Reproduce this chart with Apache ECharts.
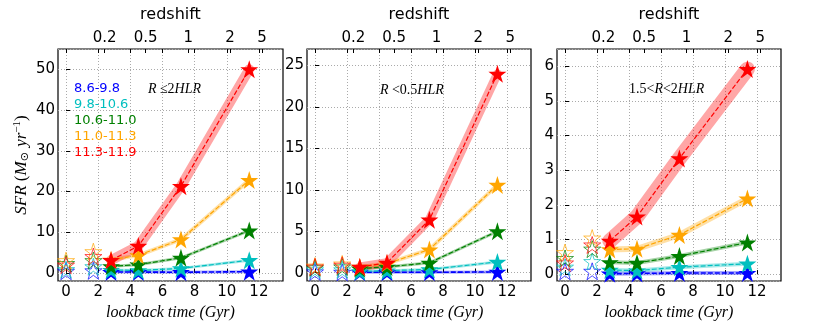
<!DOCTYPE html>
<html>
<head>
<meta charset="utf-8">
<script src="https://cdn.jsdelivr.net/npm/echarts@6/dist/echarts.min.js"></script>
<style>
  html, body { margin: 0; padding: 0; background: #fff; }
  #main { width: 831px; height: 331px; }
</style>
</head>
<body>
<div id="main"></div>
<script>
// mass bins (log M*)
var binNames = ['8.6-9.8', '9.8-10.6', '10.6-11.0', '11.0-11.3', '11.3-11.9'];
var binColors = ['#0000ff', '#00bfbf', '#008000', '#ffa500', '#ff0000'];

// lookback times (Gyr)
var xFilled = [2.8, 4.5, 7.15, 11.4];
var xOpen = [0, 1.7];
var xTicks = [0, 2, 4, 6, 8, 10, 12];

// top axis: redshift labels at their lookback time
var zLabels = ['0.2', '0.5', '1', '2', '5'];
var zLookback = [2.4, 4.95, 7.6, 10.2, 12.2];

// panel 1: R <= 2HLR
var p1Filled = [
  [0.2, 0.2, 0.15, 0.3],
  [0.7, 0.6, 1.1, 3.1],
  [1.6, 2.0, 3.7, 10.4],
  [3.2, 4.3, 8.2, 22.8],
  [3.1, 6.6, 21.3, 50.0]
];
var p1Open = [
  [0.4, 0.5],
  [0.8, 1.5],
  [2.3, 3.0],
  [3.0, 5.2],
  [1.9, 4.0]
];

// panel 2: R < 0.5HLR
var p2Filled = [
  [0.05, 0.05, 0.05, 0.1],
  [0.15, 0.25, 0.4, 1.3],
  [0.5, 0.7, 1.2, 5.0],
  [0.7, 1.1, 2.8, 10.6],
  [0.7, 1.2, 6.4, 24.0]
];
var p2Open = [
  [0.1, 0.05],
  [0.35, 0.35],
  [0.6, 0.7],
  [0.8, 1.05],
  [0.7, 0.9]
];

// panel 3: 1.5 < R < 2HLR
var p3Filled = [
  [0.01, 0.02, 0.03, 0.03],
  [0.12, 0.1, 0.2, 0.3],
  [0.34, 0.32, 0.52, 0.91],
  [0.71, 0.73, 1.13, 2.18],
  [0.96, 1.66, 3.34, 5.92]
];
var p3Open = [
  [0.08, 0.08],
  [0.2, 0.36],
  [0.45, 0.72],
  [0.62, 1.04],
  [0.32, 0.84]
];

var panels = [
  { filled: p1Filled, open: p1Open, left: 58, width: 225, ymin: -2, ymax: 55, split: 6, band: [3, 3, 3, 4, 10] },
  { filled: p2Filled, open: p2Open, left: 307, width: 224, ymin: -1, ymax: 27, split: 6, band: [3, 3, 3, 4, 9] },
  { filled: p3Filled, open: p3Open, left: 557, width: 224, ymin: -0.2, ymax: 6.5, split: 7, band: [4, 4, 4, 6, 15] }
];

var star = 'path://M50 0 L61.23 34.55 L97.55 34.55 L68.17 55.9 L79.39 90.45 L50 69.1 L20.61 90.45 L31.83 55.9 L2.45 34.55 L38.77 34.55 Z';
var sans = 'DejaVu Sans';
var serif = 'Liberation Serif';

function pairs(xs, ys) {
  return xs.map(function (x, i) { return [x, ys[i]]; });
}

var grids = [], xAxes = [], yAxes = [], series = [];
var dotted = { show: true, lineStyle: { color: '#aaaaaa', type: [1, 2], width: 1 } };

panels.forEach(function (p, k) {
  grids.push({ left: p.left, top: 49, width: p.width, height: 232, show: true,
    borderColor: '#000', borderWidth: 1.2, backgroundColor: 'transparent', outerBoundsMode: 'none' });
  // bottom x axis
  xAxes.push({
    type: 'value', gridIndex: k, min: -0.5, max: 13.5, splitNumber: 7, position: 'bottom',
    name: 'lookback time (Gyr)', nameLocation: 'middle', nameGap: 22,
    nameTextStyle: { fontFamily: serif, fontStyle: 'italic', fontSize: 16, color: '#000' },
    axisLine: { show: false },
    axisTick: { show: true, inside: true, length: 4, lineStyle: { color: '#000' }, customValues: xTicks },
    axisLabel: { fontFamily: sans, fontSize: 15, color: '#000', margin: 4, customValues: xTicks },
    splitLine: dotted
  });
  // left y axis
  yAxes.push({
    type: 'value', gridIndex: k, min: p.ymin, max: p.ymax, splitNumber: p.split, position: 'left',
    axisLine: { show: false },
    axisTick: { show: true, inside: true, length: 4, lineStyle: { color: '#000' } },
    axisLabel: { fontFamily: sans, fontSize: 15, color: '#000', margin: 3, showMinLabel: false, showMaxLabel: false },
    splitLine: dotted
  });
});

panels.forEach(function (p, k) {
  // top redshift axis
  xAxes.push({
    type: 'value', gridIndex: k, min: -0.5, max: 13.5, position: 'top',
    name: 'redshift', nameLocation: 'middle', nameGap: 26,
    nameTextStyle: { fontFamily: sans, fontSize: 16, color: '#000' },
    axisLine: { show: false },
    axisTick: { show: true, inside: true, length: 4, lineStyle: { color: '#000' },
      customValues: zLookback.concat(xTicks) },
    axisLabel: { fontFamily: sans, fontSize: 15, color: '#000', margin: 3, customValues: zLookback,
      formatter: function (v) {
        var i = zLookback.indexOf(v);
        return i >= 0 ? zLabels[i] : '';
      } },
    splitLine: { show: false }
  });
});

yAxes[0].name = '{i|SFR}{n| (}{i|M}{s|⊙}{i| yr}{u|−1}{n|)}';
yAxes[0].nameLocation = 'middle';
yAxes[0].nameGap = 26;
yAxes[0].nameTextStyle = {
  fontFamily: serif, fontSize: 17, color: '#000',
  rich: {
    i: { fontFamily: serif, fontStyle: 'italic', fontSize: 17, color: '#000' },
    n: { fontFamily: serif, fontSize: 17, color: '#000' },
    s: { fontFamily: 'DejaVu Sans', fontSize: 11, color: '#000', padding: [6, 1, 0, 0] },
    u: { fontFamily: serif, fontSize: 11, color: '#000', padding: [0, 0, 9, 0] }
  }
};

panels.forEach(function (p, k) {
  for (var b = 0; b < 5; b++) {
    var c = binColors[b];
    var d = pairs(xFilled, p.filled[b]);
    series.push({
      name: binNames[b] + ' band', type: 'line', xAxisIndex: k, yAxisIndex: k, data: d,
      symbol: 'none', silent: true, z: 2,
      lineStyle: { color: c, width: p.band[b], opacity: 0.35, cap: 'round', join: 'round' }
    });
    series.push({
      name: binNames[b], type: 'line', xAxisIndex: k, yAxisIndex: k, data: d,
      symbol: star, symbolSize: 18, z: 3,
      itemStyle: { color: c },
      lineStyle: { color: c, width: b === 0 ? 1.6 : 1.2, type: [5, 2] }
    });
    series.push({
      name: binNames[b] + ' open', type: 'scatter', xAxisIndex: k, yAxisIndex: k,
      data: pairs(xOpen, p.open[b]), symbol: star, symbolSize: 17, z: 3,
      itemStyle: { color: 'rgba(255,255,255,0)', borderColor: c, borderWidth: 1, opacity: 0.7 }
    });
  }
});

var legendData = binNames.map(function (n, i) {
  return { name: n, icon: 'rect', textStyle: { color: binColors[i] } };
});

var chart = echarts.init(document.getElementById('main'), null, { renderer: 'canvas' });
chart.setOption({
  animation: false,
  backgroundColor: '#fff',
  grid: grids,
  xAxis: xAxes,
  yAxis: yAxes,
  legend: {
    left: 69, top: 82, orient: 'vertical', selectedMode: false,
    itemWidth: 0, itemHeight: 0, itemGap: 3, padding: 0,
    textStyle: { fontFamily: sans, fontSize: 13, lineHeight: 13 },
    data: legendData
  },
  graphic: [
    { type: 'text', left: 148, top: 82, style: {
      text: '{i|R} {n|≤}{n|2}{i|HLR}', rich: {
        i: { fontFamily: serif, fontStyle: 'italic', fontSize: 14, fill: '#000' },
        n: { fontFamily: serif, fontSize: 14, fill: '#000' } } } },
    { type: 'text', left: 380, top: 83, style: {
      text: '{i|R} {n|<}{n|0.5}{i|HLR}', rich: {
        i: { fontFamily: serif, fontStyle: 'italic', fontSize: 14, fill: '#000' },
        n: { fontFamily: serif, fontSize: 14, fill: '#000' } } } },
    { type: 'text', left: 629, top: 82, style: {
      text: '{n|1.5}{n|<}{i|R}{n|<}{n|2}{i|HLR}', rich: {
        i: { fontFamily: serif, fontStyle: 'italic', fontSize: 14, fill: '#000' },
        n: { fontFamily: serif, fontSize: 14, fill: '#000' } } } }
  ],
  series: series
});
</script>
</body>
</html>
